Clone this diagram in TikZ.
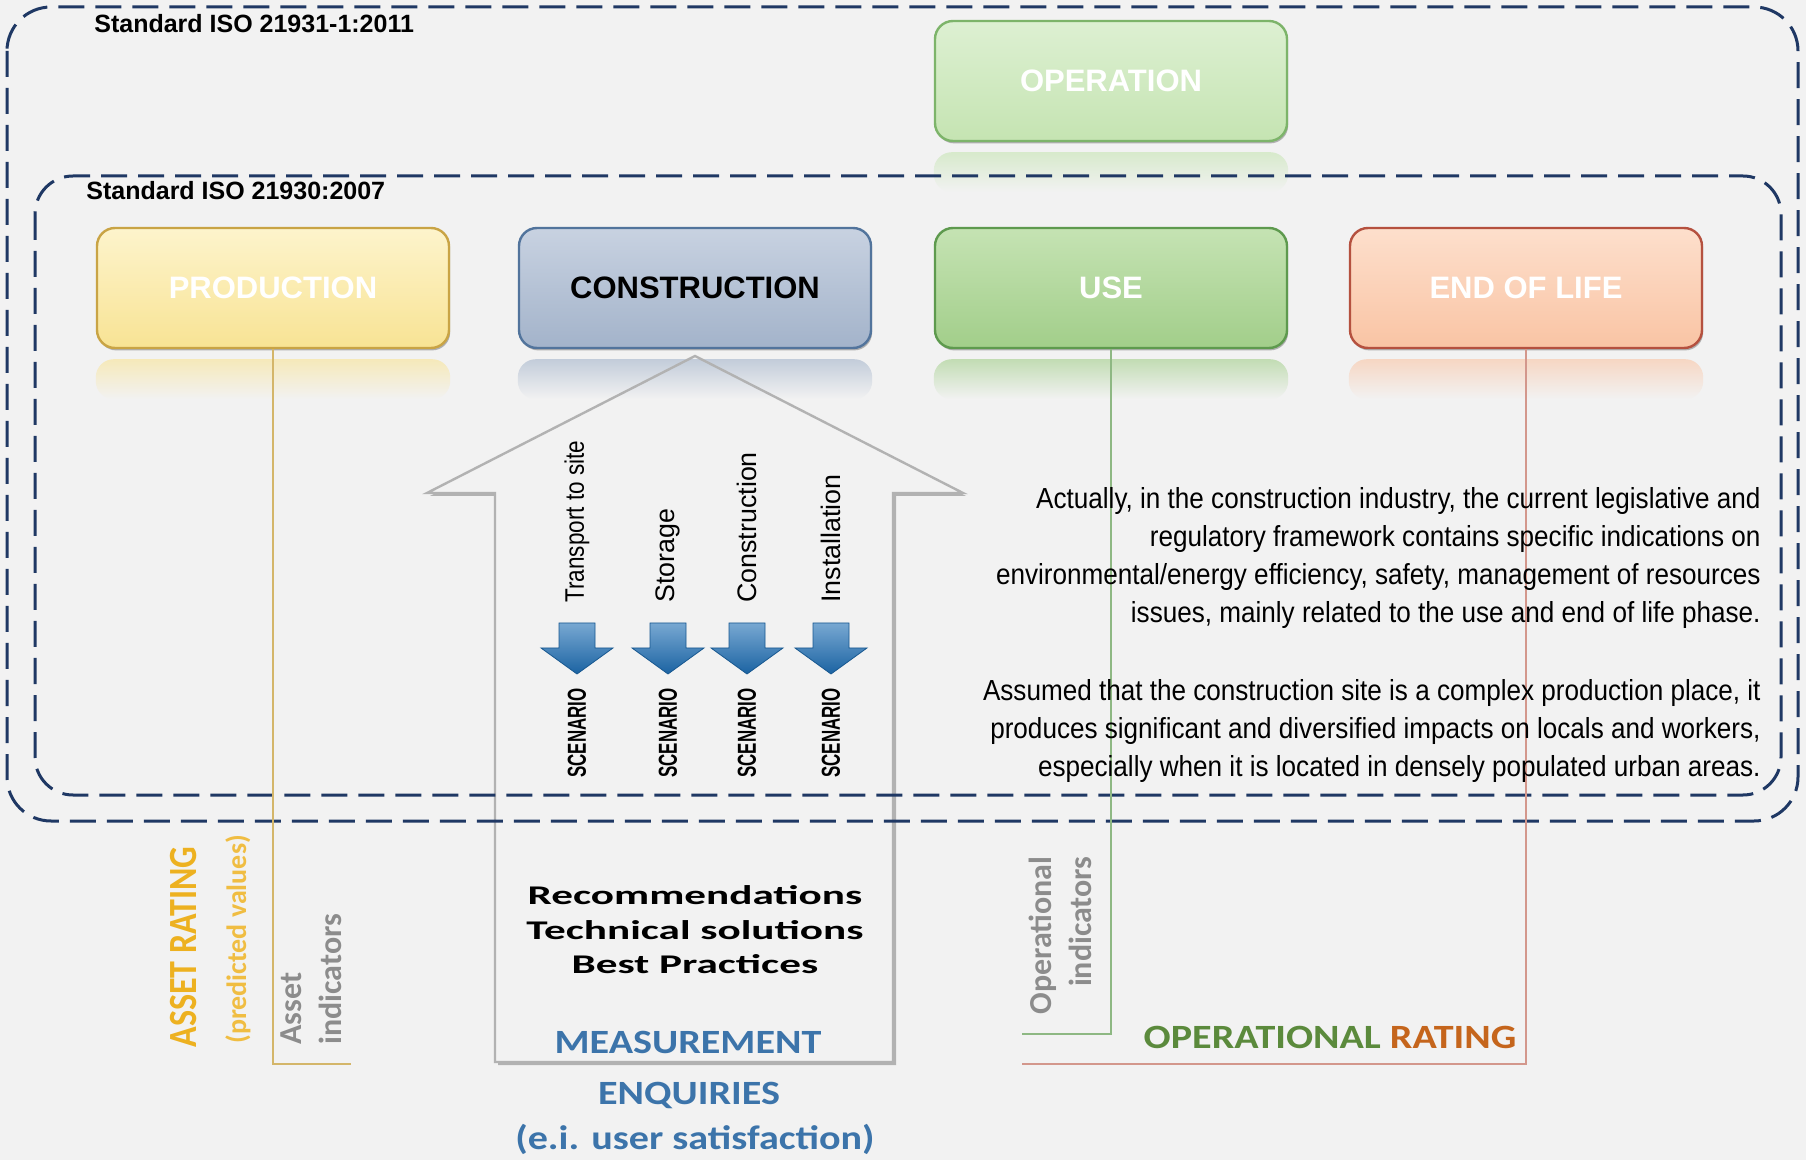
\documentclass[tikz,border=0pt]{standalone}
\usepackage{fontspec}
\setmainfont{Liberation Sans}
\newfontfamily\narrowfont[FakeStretch=0.9]{Liberation Sans}
\newfontfamily\stagefont[FakeStretch=0.84]{Liberation Sans}
\newfontfamily\scenfont[FakeStretch=0.65]{Liberation Sans}
\newfontfamily\calfont{Carlito}
\newfontfamily\calwide[FakeStretch=1.18]{Carlito}
\newfontfamily\calrec[FakeStretch=1.6]{Carlito}
\newfontfamily\calnarrow[FakeStretch=0.85]{Carlito}
\usetikzlibrary{shadows}
\definecolor{bgc}{HTML}{F2F2F2}
\definecolor{isoc}{HTML}{1F3864}
\definecolor{prodfill}{HTML}{F8E394}
\definecolor{prodtop}{HTML}{FDF4CC}
\definecolor{prodline}{HTML}{C9A445}
\definecolor{consfill}{HTML}{A3B3CA}
\definecolor{constop}{HTML}{C8D2E1}
\definecolor{consline}{HTML}{52749C}
\definecolor{usefill}{HTML}{A2CE8A}
\definecolor{usetop}{HTML}{C5E3B3}
\definecolor{useline}{HTML}{5E9A4E}
\definecolor{eolfill}{HTML}{F9C4A4}
\definecolor{eoltop}{HTML}{FDDFCC}
\definecolor{eolline}{HTML}{B5513F}
\definecolor{operfill}{HTML}{C5E4B2}
\definecolor{opertop}{HTML}{DDF0D2}
\definecolor{operline}{HTML}{7DB46A}
\definecolor{assetc}{HTML}{EDB120}
\definecolor{indc}{HTML}{8C8C8C}
\definecolor{opgreen}{HTML}{5B8A3C}
\definecolor{oporange}{HTML}{C5651C}
\definecolor{measc}{HTML}{3C74AA}
\definecolor{scenc}{HTML}{1E6EB4}
\newcommand\housepath{(495,1062) -- (495,493) -- (427,493) -- (695,356) -- (963,493) -- (893,493) -- (893,1062) -- cycle}

\begin{document}
\begin{tikzpicture}[x=0.5pt,y=-0.5pt,
  phase/.style={shade, rounded corners=9pt, minimum width=176pt, minimum height=60pt,
    line width=1.2pt, font=\bfseries\fontsize{15.5}{18}\selectfont, text=white,
    drop shadow={shadow xshift=0.6pt, shadow yshift=-1.2pt, opacity=0.4, fill=black!70}},
  isoframe/.style={draw=isoc, line width=1.5pt, dash pattern=on 13pt off 5.5pt},
  isolabel/.style={anchor=west, inner sep=0pt, font=\bfseries\fontsize{12.5}{15}\selectfont},
  stage/.style={rotate=90, anchor=west, inner sep=0pt, font=\fontsize{13.4}{16}\selectfont},
  scen/.style={rotate=90, inner sep=0pt, font=\scenfont\bfseries\fontsize{13}{15}\selectfont},
  para/.style={align=right, inner sep=0pt, font=\narrowfont\fontsize{14.5}{19}\selectfont},
  meas/.style={inner sep=0pt, text=measc, font=\calwide\bfseries\fontsize{17}{20}\selectfont},
  indic/.style={rotate=90, inner sep=0pt, text=indc, font=\calfont\bfseries\fontsize{16}{20}\selectfont},
  link/.style={line width=0.8pt}]
\useasboundingbox (0,0) rectangle (1806,1160);
\fill[bgc] (0,0) rectangle (1806,1160);

\node[phase, top color=prodtop, bottom color=prodfill, draw=prodline] (prod) at (273,288) {PRODUCTION};
\node[phase, top color=constop, bottom color=consfill, draw=consline, text=black] (cons) at (695,288) {CONSTRUCTION};
\node[phase, top color=usetop, bottom color=usefill, draw=useline] (use) at (1111,288) {USE};
\node[phase, top color=eoltop, bottom color=eolfill, draw=eolline] (eol) at (1526,288) {END OF LIFE};
\node[phase, top color=opertop, bottom color=operfill, draw=operline] (oper) at (1111,81) {OPERATION};

\fill[bgc, drop shadow={shadow xshift=1.5pt, shadow yshift=-1.5pt, opacity=0.45, fill=black!60}] \housepath;
\foreach \n/\c in {prod/prodfill,cons/consfill,use/usefill,eol/eolfill,oper/operfill}
  \shade[top color=\c!60!bgc, bottom color=bgc, rounded corners=9pt]
    ([yshift=-25pt]\n.south west) -- ([yshift=-5pt]\n.south west) -- ([yshift=-5pt]\n.south east) -- ([yshift=-25pt]\n.south east) -- cycle;
\draw[black!30, line width=1.2pt] \housepath;

\draw[isoframe, rounded corners=22pt] (7,7) rectangle (1798,821);
\draw[isoframe, rounded corners=19pt] (35,176) rectangle (1781,795);
\node[isolabel] (iso1) at (94,24) {Standard ISO 21931-1:2011};
\node[isolabel] (iso2) at (86,191) {Standard ISO 21930:2007};

\coordinate (assetend) at (351,1064);
\coordinate (opindend) at (1022,1034);
\coordinate (opratend) at (1022,1064);
\draw[link, prodline!80] (prod.south) -- (prod.south |- assetend) -- (assetend);
\draw[link, useline!70] (use.south) -- (use.south |- opindend) -- (opindend);
\draw[link, eolline!60] (eol.south) -- (eol.south |- opratend) -- (opratend);

\foreach \x/\n/\t in {577/tr/Transport to site,668/st/Storage,747/co/Construction,831/in/Installation}{
  \shade[top color=scenc!60!white, bottom color=scenc!90!black, draw=scenc!80!black, line width=0.4pt]
    (\x-18,623) -- (\x+18,623) -- (\x+18,648) -- (\x+36,648) -- (\x,674) -- (\x-36,648) -- (\x-18,648) -- cycle;
  \node[scen] (sc\n) at (\x,733) {SCENARIO};
}
\node[stage, font=\stagefont\fontsize{13.4}{16}\selectfont] (tr) at (577,603) {Transport to site};
\node[stage] (st) at (668,603) {Storage};
\node[stage] (co) at (747,603) {Construction};
\node[stage] (in) at (831,603) {Installation};

\node[para, anchor=north east] (note) at (1761,487) {Actually, in the construction industry, the current legislative and\\
  regulatory framework contains specific indications on\\
  environmental/energy efficiency, safety, management of resources\\
  issues, mainly related to the use and end of life phase.\\[20pt]
  Assumed that the construction site is a complex production place, it\\
  produces significant and diversified impacts on locals and workers,\\
  especially when it is located in densely populated urban areas.};

\node[align=center, inner sep=0pt, font=\calrec\bfseries\fontsize{13.5}{17.3}\selectfont] (rec) at (695,930)
  {Recommendations\\Technical solutions\\Best Practices};
\node[meas] (measure) at (688,1042) {MEASUREMENT};
\node[meas] (enq) at (689,1095) {ENQUIRIES};
\node[meas] (sat) at (695,1139) {(e.i. user satisfaction)};

\node[rotate=90, anchor=west, inner sep=0pt, text=assetc, font=\calnarrow\bfseries\fontsize{20}{24}\selectfont] (arating) at (184,1048) {ASSET RATING};
\node[rotate=90, anchor=west, inner sep=0pt, text=assetc!85!white, font=\calfont\bfseries\fontsize{14}{17}\selectfont] (pred) at (238,1044) {(predicted values)};
\node[indic, anchor=west, align=left] (aind) at (311,1045) {Asset\\indicators};
\node[indic, anchor=east, align=right] (oind) at (1060,856) {Operational\\indicators};
\node[inner sep=0pt, font=\calwide\bfseries\fontsize{17}{20}\selectfont] (orating) at (1330,1037)
  {\textcolor{opgreen}{OPERATIONAL} \textcolor{oporange}{RATING}};
\end{tikzpicture}
\end{document}
